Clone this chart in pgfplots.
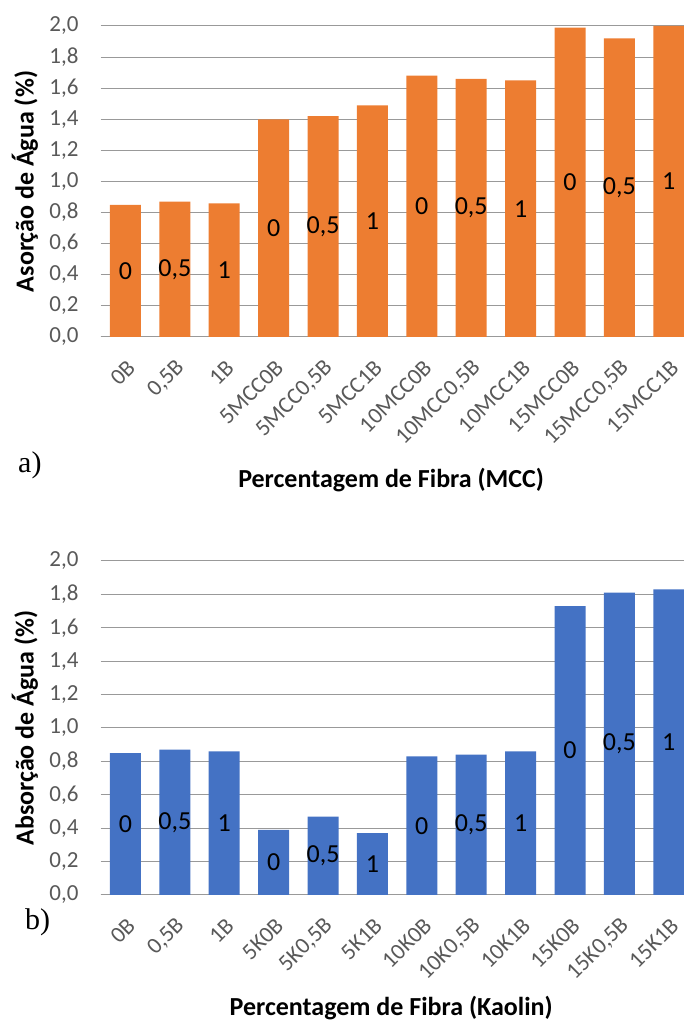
\documentclass[border=0pt]{standalone}
\usepackage{pgfplots}
\pgfplotsset{compat=1.18}
\usepackage{pgfplotstable}
\usepackage{fontspec}
\setmainfont{Carlito}
\newfontfamily\panelfont{Liberation Serif}

\definecolor{mccorange}{HTML}{ED7D31}
\definecolor{kaoblue}{HTML}{4472C4}
\definecolor{ticktext}{HTML}{595959}
\definecolor{gridgray}{HTML}{999999}
\definecolor{basegray}{HTML}{D9D9D9}

% water absorption, MCC series
\pgfplotstableread{
idx y lbl
0 0.85 0
1 0.87 0,5
2 0.86 1
3 1.40 0
4 1.42 0,5
5 1.49 1
6 1.68 0
7 1.66 0,5
8 1.65 1
9 1.99 0
10 1.92 0,5
11 2.00 1
}\mcctable

% water absorption, kaolin series
\pgfplotstableread{
idx y lbl
0 0.85 0
1 0.87 0,5
2 0.86 1
3 0.39 0
4 0.47 0,5
5 0.37 1
6 0.83 0
7 0.84 0,5
8 0.86 1
9 1.73 0
10 1.81 0,5
11 1.83 1
}\kaotable

\pgfplotsset{
  absorption/.style={
    scale only axis,
    width=592.8pt,
    xmin=-0.5, xmax=11.5,
    ymin=0, ymax=2,
    ytick={0,0.2,0.4,0.6,0.8,1.0,1.2,1.4,1.6,1.8,2.0},
    xtick={0,...,11},
    ymajorgrids,
    major grid style={gridgray, line width=1pt},
    extra y ticks={0},
    extra y tick labels={},
    extra y tick style={grid style={basegray, line width=2.5pt}},
    axis line style={draw=none},
    major tick length=0pt,
    tick style={draw=none},
    /pgf/number format/assume math mode=true,
    /pgf/number format/use comma,
    /pgf/number format/fixed,
    /pgf/number format/fixed zerofill,
    /pgf/number format/precision=1,
    yticklabel style={font=\fontsize{23}{27}\selectfont, text=ticktext, anchor=east, inner sep=0pt, xshift=-22pt},
    xticklabel style={font=\fontsize{23}{27}\selectfont, text=ticktext, xshift=6pt, yshift=-27pt, rotate=45, anchor=east, inner sep=0pt},
    every axis y label/.style={at={(axis description cs:-0.128,0.5)}, rotate=90, anchor=center,
      font=\fontsize{26}{30}\selectfont\bfseries, text=black},
    every axis x label/.style={anchor=center, font=\fontsize{26}{30}\selectfont\bfseries, text=black},
    bar width=31pt,
    point meta=explicit symbolic,
    nodes near coords,
  },
}

\begin{document}
\begin{tikzpicture}

% a) MCC
\begin{axis}[absorption,
  at={(100.7pt,688pt)}, anchor=south west,
  height=311pt,
  xticklabels={{0B},{0,5B},{1B},{5MCC0B},{5MCC0,5B},{5MCC1B},{10MCC0B},{10MCC0,5B},{10MCC1B},{15MCC0B},{15MCC0,5B},{15MCC1B}},
  ylabel={Asorção de Água (\%)},
  xlabel={Percentagem de Fibra (MCC)},
  xlabel style={at={(axis description cs:0.49,-0.46)}},
  visualization depends on={rawy \as \barval},
  every node near coord/.append style={anchor=center, yshift=-\barval*77.75pt,
    font=\fontsize{26}{30}\selectfont, text=black},
]
\addplot[ybar, fill=mccorange, draw=none] table[x=idx, y=y, meta=lbl] {\mcctable};
\end{axis}

% b) kaolin
\begin{axis}[absorption,
  at={(100.7pt,130pt)}, anchor=south west,
  height=334pt,
  xticklabels={{0B},{0,5B},{1B},{5K0B},{5K0,5B},{5K1B},{10K0B},{10K0,5B},{10K1B},{15K0B},{15K0,5B},{15K1B}},
  ylabel={Absorção de Água (\%)},
  xlabel={Percentagem de Fibra (Kaolin)},
  xlabel style={at={(axis description cs:0.49,-0.338)}},
  visualization depends on={rawy \as \barval},
  every node near coord/.append style={anchor=center, yshift=-\barval*83.5pt,
    font=\fontsize{26}{30}\selectfont, text=black},
]
\addplot[ybar, fill=kaoblue, draw=none] table[x=idx, y=y, meta=lbl] {\kaotable};
\end{axis}

\node[anchor=west, inner sep=0pt, font=\panelfont\fontsize{30}{34}\selectfont] at (18pt,560pt) {a)};
\node[anchor=west, inner sep=0pt, font=\panelfont\fontsize{30}{34}\selectfont] at (25pt,103pt) {b)};

\pgfresetboundingbox
\useasboundingbox (0,0) rectangle (684pt,1025pt);
\end{tikzpicture}
\end{document}
